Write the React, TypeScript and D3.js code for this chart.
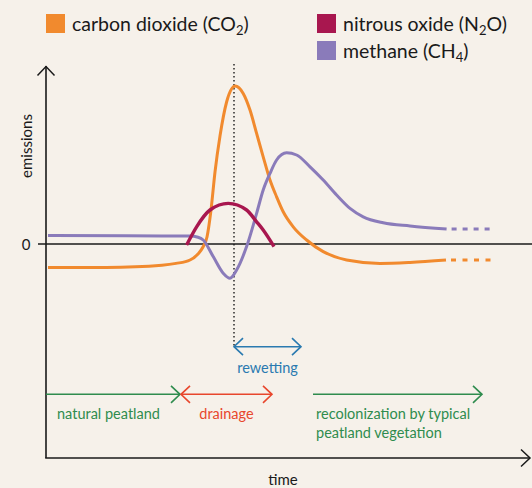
import React from 'react';
import * as d3 from 'd3';

// time units (0..242) and emission units (-107..89)
const co2Solid: [number, number][] = [
  [1, -11.8], [30, -11.7], [58, -10.6], [65, -9.7], [72, -8], [76, -5], [78.5, -1.5],
  [80.5, 3.5], [82.5, 17], [84.5, 36], [87, 54], [90.3, 71], [94.6, 79],
  [98.6, 75.3], [102, 67], [105.3, 55.3], [108.6, 43.6], [112, 32], [115.3, 23.6],
  [118.6, 16.1], [123.6, 8.6], [130.3, 2], [138.6, -3.8], [150.3, -8], [167, -9.7],
  [182, -9.2], [200, -8],
];
const co2Dashed: [number, number][] = [[200, -8], [223, -8]];

const ch4Solid: [number, number][] = [
  [1, 4.2], [40, 4.1], [72, 4], [76, 3.4], [78.6, 2], [83.6, -6.3], [88.6, -14.6], [92, -17.1],
  [95.3, -13], [100.3, -1.3], [105.3, 15.3], [108.6, 27], [112, 35.3], [115.3, 42], [120.3, 45.6],
  [125.3, 44.5], [132, 38.6], [138.6, 32], [145.3, 24.5], [152, 17.8], [158.6, 13.6],
  [168.6, 10.6], [182, 9], [200.3, 7.5],
];
const ch4Dashed: [number, number][] = [[200.3, 7.5], [222, 7.5]];

const n2oSolid: [number, number][] = [
  [70.3, -0.5], [75.3, 8.6], [82, 17], [91.1, 20.3], [100.3, 17], [105.3, 11.1], [108.6, 7], [114, -1.3],
];

const rewettingTime = 94;
const rewettingSpan: [number, number] = [94, 127.5];
const phases = [
  { label: ['natural peatland'], from: 0, to: 67, startHead: false, endHead: true, color: '#2f8c4e', textX: 5.5 },
  { label: ['drainage'], from: 67.5, to: 113, startHead: true, endHead: true, color: '#e8472d', textX: 'center' },
  { label: ['recolonization by typical', 'peatland vegetation'], from: 133.5, to: 218, startHead: false, endHead: true, color: '#2f8c4e', textX: 135 },
];

const legendItems = [
  { name: 'carbon dioxide (CO', sub: '2', tail: ')', color: '#f18a2e', col: 0, row: 0 },
  { name: 'nitrous oxide (N', sub: '2', tail: 'O)', color: '#a8174f', col: 1, row: 0 },
  { name: 'methane (CH', sub: '4', tail: ')', color: '#8a7bba', col: 1, row: 1 },
];

const W = 532;
const H = 488;
const FONT = 'Lato, "Open Sans", sans-serif';

export default function App() {
  const x = d3.scaleLinear().domain([0, 242]).range([46, 530]);
  const y = d3.scaleLinear().domain([-107, 89]).range([458, 66]);
  const line = d3.line<[number, number]>().x(d => x(d[0])).y(d => y(d[1])).curve(d3.curveMonotoneX);
  const straight = d3.line<[number, number]>().x(d => x(d[0])).y(d => y(d[1]));

  const chevron = (tx: number, ty: number, dir: number, len = 9, half = 8.5) =>
    `M${tx - dir * len},${ty - half}L${tx},${ty}L${tx - dir * len},${ty + half}`;

  const phaseY = 394.3;
  const rewetY = 346.7;

  return (
    <svg width={W} height={H} style={{ position: 'absolute', left: 0, top: 0, background: '#f6f1ea' }} fontFamily={FONT}>
      <rect width={W} height={H} fill="#f6f1ea" />
      {/* legend */}
      {legendItems.map((it, i) => {
        const lx = it.col === 0 ? 46 : 317;
        const ly = 14 + it.row * 27;
        return (
          <g key={i}>
            <rect x={lx} y={ly} width={19} height={19} fill={it.color} />
            <text x={lx + 26} y={ly + 16.5} fontSize={19.5} fill="#1a1a1a">
              {it.name}
              <tspan fontSize={13} dy={4}>{it.sub}</tspan>
              <tspan dy={-4}>{it.tail}</tspan>
            </text>
          </g>
        );
      })}

      {/* dotted rewetting line */}
      <line x1={x(rewettingTime)} x2={x(rewettingTime)} y1={64} y2={rewetY} stroke="#1a1a1a" strokeWidth={1.4} strokeDasharray="1.4 2.6" />

      {/* zero line */}
      <line x1={38} x2={532} y1={y(0)} y2={y(0)} stroke="#1a1a1a" strokeWidth={1.6} />
      <text x={26} y={y(0) + 5.5} fontSize={15} textAnchor="middle" fill="#1a1a1a">0</text>

      {/* curves */}
      <path d={line(co2Solid) || ''} fill="none" stroke="#f18a2e" strokeWidth={3} />
      <path d={straight(co2Dashed) || ''} fill="none" stroke="#f18a2e" strokeWidth={3.2} strokeDasharray="5 6.5" strokeDashoffset={-5} />
      <path d={line(ch4Solid) || ''} fill="none" stroke="#8a7bba" strokeWidth={3} />
      <path d={straight(ch4Dashed) || ''} fill="none" stroke="#8a7bba" strokeWidth={3.2} strokeDasharray="5 6" strokeDashoffset={-5} />
      <path d={line(n2oSolid) || ''} fill="none" stroke="#a8174f" strokeWidth={3.4} />

      {/* axes */}
      <line x1={46} x2={46} y1={66} y2={458} stroke="#1a1a1a" strokeWidth={1.6} />
      <path d="M37.5,75.5L46,66.5L54.5,75.5" fill="none" stroke="#1a1a1a" strokeWidth={1.5} />
      <line x1={45.2} x2={530} y1={458} y2={458} stroke="#1a1a1a" strokeWidth={1.6} />
      <path d="M521,449.5L530,458L521,466.5" fill="none" stroke="#1a1a1a" strokeWidth={1.5} />
      <text x={283} y={485} fontSize={15} textAnchor="middle" fill="#1a1a1a">time</text>
      <text transform={`translate(32,146) rotate(-90)`} fontSize={15} textAnchor="middle" fill="#1a1a1a">emissions</text>

      {/* rewetting arrow */}
      <g stroke="#2a7ab0" strokeWidth={1.6} fill="none">
        <line x1={x(rewettingSpan[0])} x2={x(rewettingSpan[1])} y1={rewetY} y2={rewetY} />
        <path d={chevron(x(rewettingSpan[0]), rewetY, -1)} />
        <path d={chevron(x(rewettingSpan[1]), rewetY, 1)} />
      </g>
      <text x={(x(rewettingSpan[0]) + x(rewettingSpan[1])) / 2} y={373} fontSize={14.5} textAnchor="middle" fill="#2a7ab0">rewetting</text>

      {/* phase arrows */}
      {phases.map((p, i) => {
        const x1 = x(p.from);
        const x2 = x(p.to);
        const tx = p.textX === 'center' ? (x1 + x2) / 2 : x(p.textX as number);
        const anchor = p.textX === 'center' ? 'middle' : 'start';
        return (
          <g key={i}>
            <g stroke={p.color} strokeWidth={1.6} fill="none">
              <line x1={x1} x2={x2} y1={phaseY} y2={phaseY} />
              {p.startHead && <path d={chevron(x1, phaseY, -1)} />}
              {p.endHead && <path d={chevron(x2, phaseY, 1)} />}
            </g>
            {p.label.map((l, j) => (
              <text key={j} x={tx} y={419.3 + j * 19} fontSize={14.5} textAnchor={anchor} fill={p.color}>{l}</text>
            ))}
          </g>
        );
      })}
    </svg>
  );
}
